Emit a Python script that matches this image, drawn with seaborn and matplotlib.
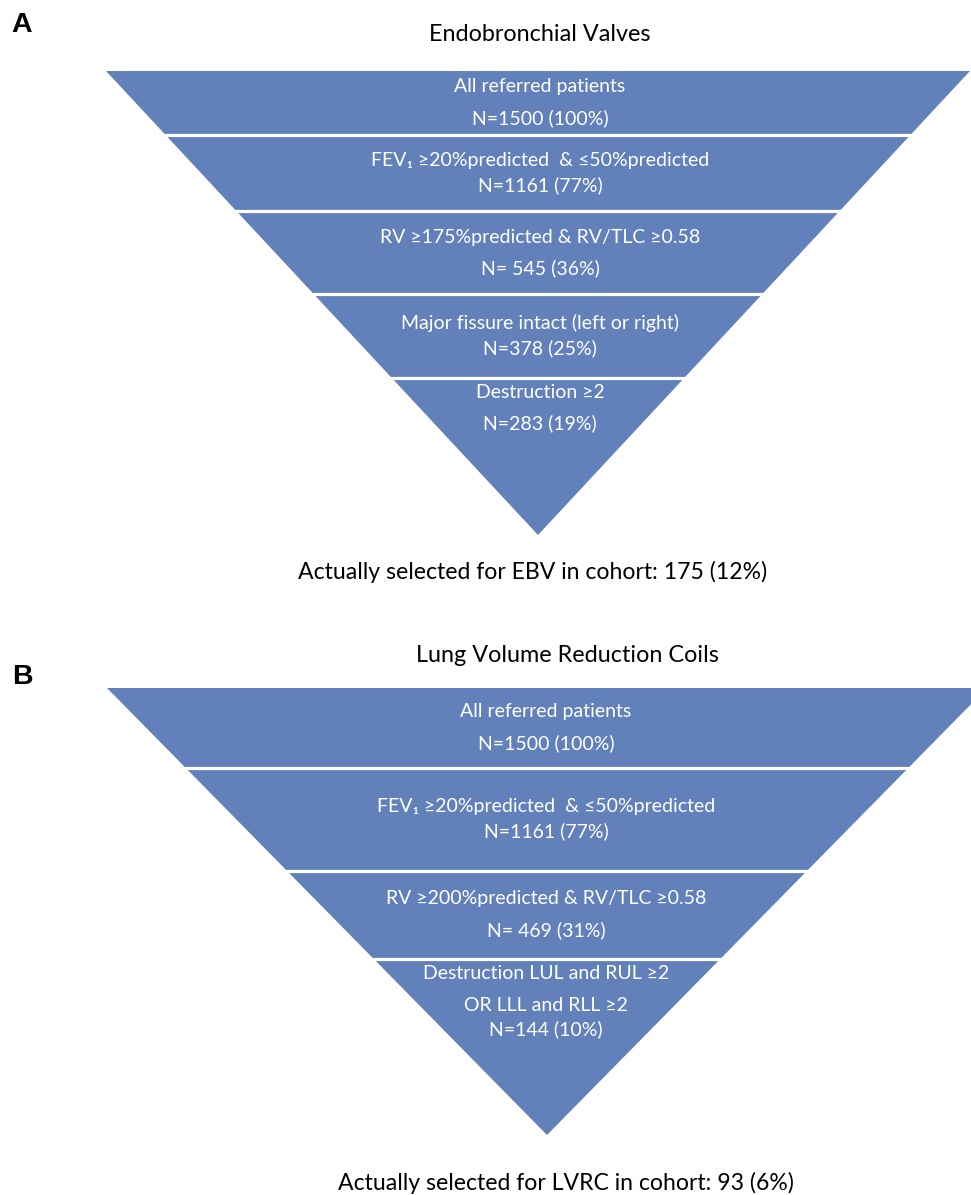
import numpy as np
import seaborn as sns
import matplotlib.pyplot as plt

# Panel A: endobronchial valves
ebv_steps = [
    "All referred patients",
    "FEV₁ ≥20%predicted  & ≤50%predicted",
    "RV ≥175%predicted & RV/TLC ≥0.58",
    "Major fissure intact (left or right)",
    "Destruction ≥2",
]
ebv_n = [1500, 1161, 545, 378, 283]
ebv_pct = [100, 77, 36, 25, 19]
ebv_selected = (175, 12)

# Panel B: lung volume reduction coils
lvrc_steps = [
    "All referred patients",
    "FEV₁ ≥20%predicted  & ≤50%predicted",
    "RV ≥200%predicted & RV/TLC ≥0.58",
    "Destruction LUL and RUL ≥2\nOR LLL and RLL ≥2",
]
lvrc_n = [1500, 1161, 469, 144]
lvrc_pct = [100, 77, 31, 10]
lvrc_selected = (93, 6)

FILL = "#6281bb"
FAMILY = ["Lato", "DejaVu Sans"]

sns.set_theme(style="white")
plt.rcParams["font.family"] = FAMILY


def count_label(i, n, p):
    # the source figure puts a space after "=" in the RV row
    sep = "= " if i == 2 else "="
    return f"N{sep}{n} ({p}%)"


def draw_funnel(ax, steps, n, pct, selected, layout, title, letter, treatment):
    top, apex, cx, hw = layout["top"], layout["apex"], layout["cx"], layout["hw"]
    ax.fill([cx - hw, cx + hw, cx], [top, top, apex], color=FILL, lw=0)
    ax.hlines(layout["cuts"], 0, 1000, colors="white", lw=2.3)
    for i, step in enumerate(steps):
        lines = step.split("\n") + [count_label(i, n[i], pct[i])]
        for txt, y in zip(lines, layout["text_y"][i]):
            ax.text(layout["tx"], y, txt, color="white", ha="center", va="center",
                    fontsize=14, family=FAMILY)
    ax.text(layout["title_x"], layout["title_y"], title, ha="center", va="center",
            fontsize=16.8, color="black")
    ax.text(22, layout["letter_y"], letter, ha="center", va="center",
            fontsize=20.5, fontweight="bold", family=["Liberation Sans"], color="black")
    ax.text(layout["foot_x"], layout["foot_y"],
            f"Actually selected for {treatment} in cohort: {selected[0]} ({selected[1]}%)",
            ha="center", va="center", fontsize=16.6, color="black")


layout_a = dict(top=71, apex=535, cx=538, hw=432, cuts=[134.5, 210.5, 293.5, 377.5],
                tx=540, text_y=[[86, 118], [160, 185], [237, 268], [323, 348], [392, 423]],
                title_x=540, title_y=34, letter_y=25, foot_x=533, foot_y=572)
layout_b = dict(top=688, apex=1135, cx=547, hw=440, cuts=[767.5, 870.5, 958.5],
                tx=546, text_y=[[711, 743], [806, 831], [898, 930], [973, 1005, 1029]],
                title_x=567, title_y=655, letter_y=677, foot_x=566, foot_y=1183)

fig = plt.figure(figsize=(9.71, 11.95), dpi=100)
ax = fig.add_axes([0, 0, 1, 1])
ax.set_xlim(0, 971)
ax.set_ylim(1195, 0)
ax.set_axis_off()

draw_funnel(ax, ebv_steps, ebv_n, ebv_pct, ebv_selected, layout_a,
            "Endobronchial Valves", "A", "EBV")
draw_funnel(ax, lvrc_steps, lvrc_n, lvrc_pct, lvrc_selected, layout_b,
            "Lung Volume Reduction Coils", "B", "LVRC")

fig.savefig("out.png", dpi=100, facecolor="white")
